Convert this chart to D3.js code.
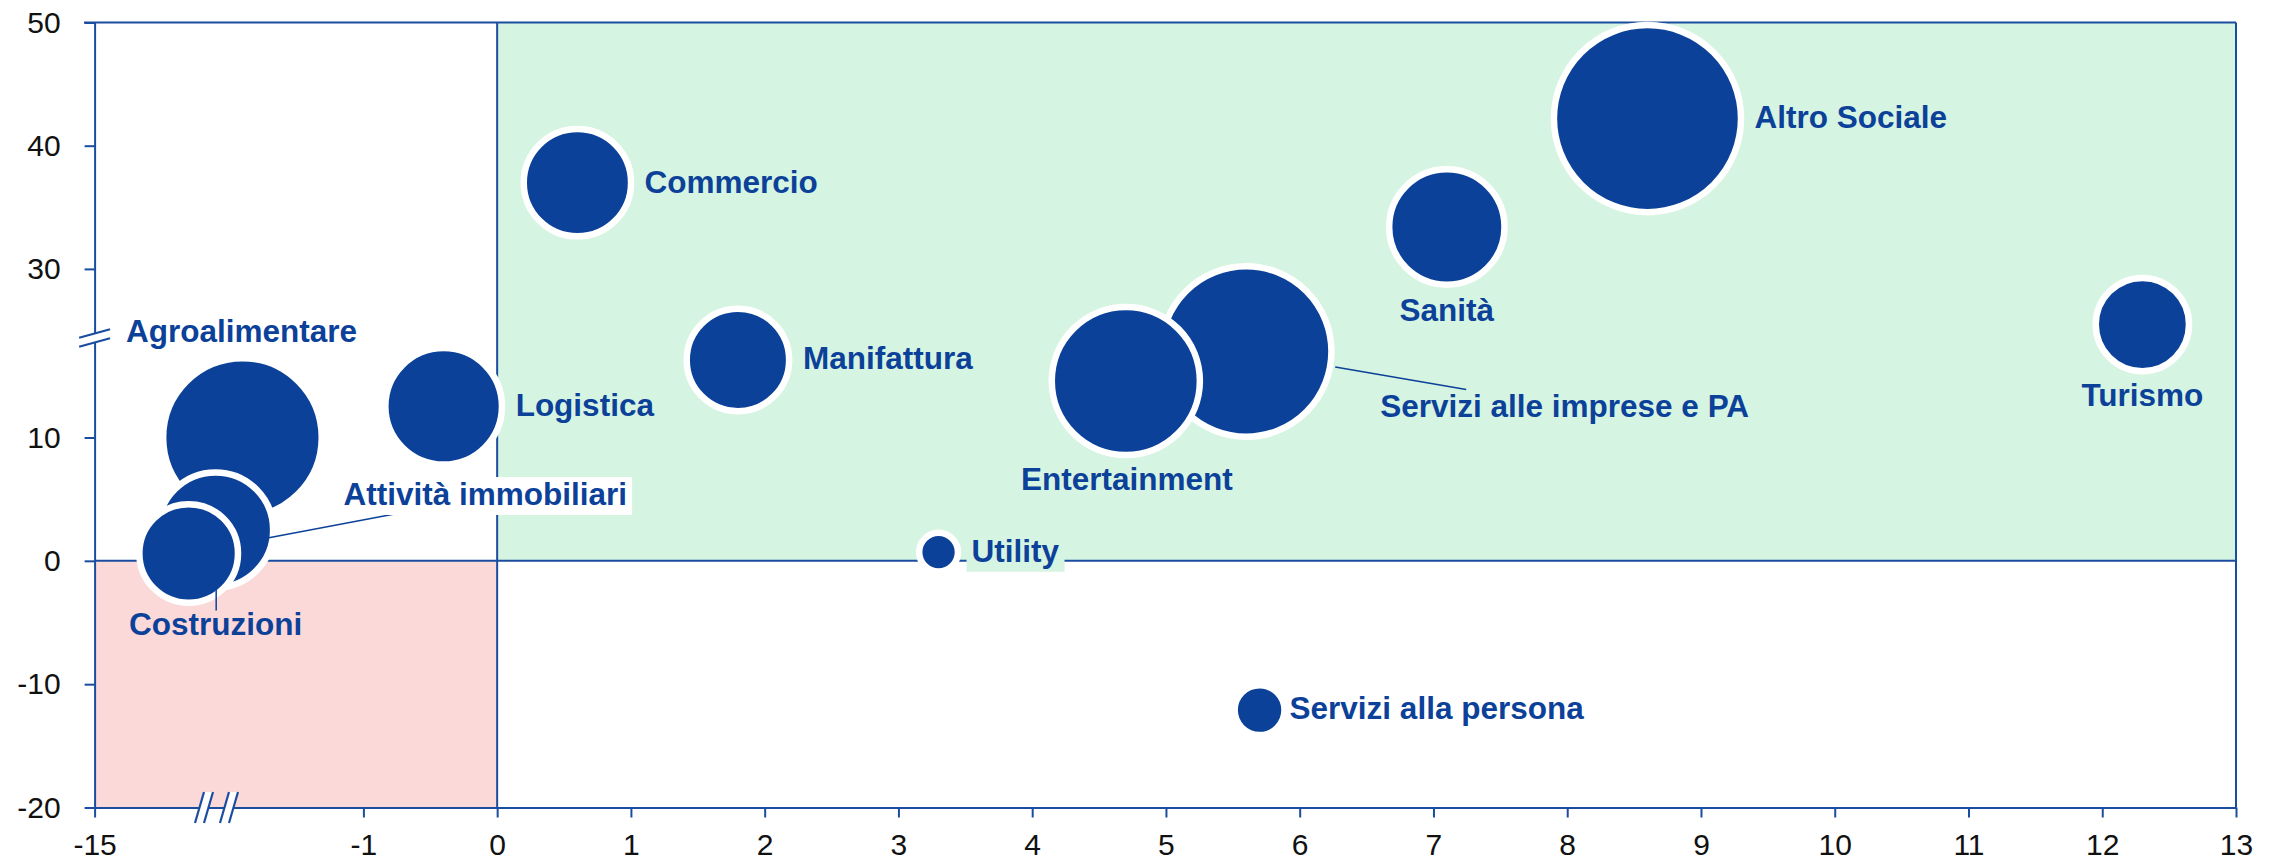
<!DOCTYPE html>
<html>
<head>
<meta charset="utf-8">
<script src="https://cdn.jsdelivr.net/npm/d3@7"></script>
<style>
  body { margin: 0; background: #fff; }
  svg { display: block; font-family: "Liberation Sans", Arial, sans-serif; }
</style>
</head>
<body>
<div id="chart"></div>
<script>
// Data
const categories = ["Agroalimentare", "Attività immobiliari", "Costruzioni", "Logistica", "Commercio",
    "Manifattura", "Utility", "Entertainment", "Servizi alle imprese e PA", "Servizi alla persona",
    "Sanità", "Altro Sociale", "Turismo"];
const xValues = [-7.3, -8.7, -10.1, -0.4, 0.6, 1.8, 3.3, 4.7, 5.6, 5.7, 7.1, 8.6, 12.3];
const yValues = [10.0, 2.5, 0.6, 13.7, 37.0, 19.2, 0.7, 16.7, 20.2, -12.1, 33.4, 42.2, 23.4];
const sizes = [57.8, 29.5, 21.2, 30.3, 25.4, 23.0, 2.6, 50.1, 67.2, 4.7, 29.6, 81.5, 18.8];
const xTicks = [-15, -1, 0, 1, 2, 3, 4, 5, 6, 7, 8, 9, 10, 11, 12, 13];
const yTicks = [-20, -10, 0, 10, 30, 40, 50];

// Label placement (pixels from bubble centre)
const labelLayout = {
    "Agroalimentare": { anchor: "middle", dx: -1, dy: -96 },
    "Attività immobiliari": { anchor: "start", dx: 128, dy: -25, box: "#fff", leader: [52, 8, 179, -16] },
    "Costruzioni": { anchor: "middle", dx: 27, dy: 82, leader: [27.5, 36, 27.5, 57] },
    "Logistica": { anchor: "start", dx: 72, dy: 10 },
    "Commercio": { anchor: "start", dx: 67, dy: 10 },
    "Manifattura": { anchor: "start", dx: 65, dy: 9 },
    "Utility": { anchor: "start", dx: 33, dy: 9.5, box: "#d6f4e2" },
    "Entertainment": { anchor: "middle", dx: 1, dy: 108.5 },
    "Servizi alle imprese e PA": { anchor: "start", dx: 134, dy: 65.5, leader: [89, 15.4, 220, 38] },
    "Servizi alla persona": { anchor: "start", dx: 30, dy: 8.5 },
    "Sanità": { anchor: "middle", dx: 0, dy: 93.5 },
    "Altro Sociale": { anchor: "start", dx: 107, dy: 9.5 },
    "Turismo": { anchor: "middle", dx: 0, dy: 81 }
};

const width = 2277;
const height = 861;
const blue = "#0c4199";
const lineBlue = "#1a4c9f";

const svg = d3.select("#chart").append("svg")
    .attr("width", width)
    .attr("height", height);

// Broken scales: x squeezed between -15 and -1, y between 10 and 30
const x = d3.scaleLinear()
    .domain([-15, -1, 13])
    .range([94.6, 363.4, 2236]);

const y = d3.scaleLinear()
    .domain([-20, 10, 30, 50])
    .range([807.5, 437.5, 268.9, 22.5]);

const r = d3.scaleSqrt()
    .domain([0, d3.max(sizes)])
    .range([0, 90.3]);

// Quadrant backgrounds
svg.append("rect")
    .attr("x", x(0)).attr("y", y(50))
    .attr("width", x(13) - x(0)).attr("height", y(0) - y(50))
    .attr("fill", "#d6f4e2");

svg.append("rect")
    .attr("x", x(-15)).attr("y", y(0))
    .attr("width", x(0) - x(-15)).attr("height", y(-20) - y(0))
    .attr("fill", "#fcd9d9");

// Frame and zero lines
svg.append("line")
    .attr("x1", 84).attr("x2", x(13)).attr("y1", y(50)).attr("y2", y(50))
    .attr("stroke", lineBlue).attr("stroke-width", 2);
svg.append("line")
    .attr("x1", x(13)).attr("x2", x(13)).attr("y1", y(50)).attr("y2", y(-20))
    .attr("stroke", lineBlue).attr("stroke-width", 2);
svg.append("line")
    .attr("x1", x(0)).attr("x2", x(0)).attr("y1", y(50)).attr("y2", y(-20))
    .attr("stroke", lineBlue).attr("stroke-width", 2);
svg.append("line")
    .attr("x1", x(-15)).attr("x2", x(13)).attr("y1", y(0)).attr("y2", y(0))
    .attr("stroke", lineBlue).attr("stroke-width", 2);

// Axes
const xAxis = svg.append("g")
    .attr("transform", `translate(0,${y(-20)})`)
    .call(d3.axisBottom(x).tickValues(xTicks).tickFormat(d => String(d))
        .tickSize(10).tickSizeOuter(0).tickPadding(16));

const yAxis = svg.append("g")
    .attr("transform", `translate(${x(-15)},0)`)
    .call(d3.axisLeft(y).tickValues(yTicks).tickFormat(d => String(d))
        .tickSize(10).tickSizeOuter(0).tickPadding(24));

[xAxis, yAxis].forEach(g => {
    g.select(".domain").attr("stroke", lineBlue).attr("stroke-width", 2);
    g.selectAll(".tick line").attr("stroke", lineBlue).attr("stroke-width", 2);
    g.selectAll(".tick text")
        .attr("fill", "#111")
        .style("font-size", "30px")
        .style("font-family", "'Liberation Sans', Arial, sans-serif");
});

// Axis break marks
function breakMark(cx, cy, w, h, slant, horizontal) {
    // white band between two slanted blue strokes
    let pts;
    if (horizontal) {
        pts = [[cx - w / 2 - slant, cy + h / 2], [cx - w / 2 + slant, cy - h / 2],
               [cx + w / 2 + slant, cy - h / 2], [cx + w / 2 - slant, cy + h / 2]];
    } else {
        pts = [[cx - w / 2, cy - h / 2 + slant], [cx + w / 2, cy - h / 2 - slant],
               [cx + w / 2, cy + h / 2 - slant], [cx - w / 2, cy + h / 2 + slant]];
    }
    svg.append("polygon")
        .attr("points", pts.map(p => p.join(",")).join(" "))
        .attr("fill", "#fff");
    [[pts[0], pts[1]], [pts[3], pts[2]]].forEach(l => {
        svg.append("line")
            .attr("x1", l[0][0]).attr("y1", l[0][1])
            .attr("x2", l[1][0]).attr("y2", l[1][1])
            .attr("stroke", lineBlue).attr("stroke-width", 2.2);
    });
}

breakMark(x(-15), 338, 31, 9, 4.2, false);
breakMark(204, y(-20), 9, 31, 4.5, true);
breakMark(229, y(-20), 9, 31, 4.5, true);

// Bubbles, largest behind
const bubbles = categories.map((c, i) => ({
    name: c, x: xValues[i], y: yValues[i], size: sizes[i]
})).sort((a, b) => b.size - a.size);

svg.append("g")
    .selectAll("circle")
    .data(bubbles)
    .join("circle")
    .attr("cx", d => x(d.x))
    .attr("cy", d => y(d.y))
    .attr("r", d => r(d.size) + 3.25)
    .attr("fill", blue)
    .attr("stroke", "#fff")
    .attr("stroke-width", 6.5);

// Labels
const labels = svg.append("g");

bubbles.forEach(d => {
    const L = labelLayout[d.name];
    const cx = x(d.x);
    const cy = y(d.y);

    if (L.leader) {
        labels.append("line")
            .attr("x1", cx + L.leader[0]).attr("y1", cy + L.leader[1])
            .attr("x2", cx + L.leader[2]).attr("y2", cy + L.leader[3])
            .attr("stroke", blue).attr("stroke-width", 1.5);
    }

    const t = labels.append("text")
        .attr("x", cx + L.dx)
        .attr("y", cy + L.dy)
        .attr("text-anchor", L.anchor)
        .attr("fill", blue)
        .style("font-size", "31.5px")
        .style("font-weight", "bold")
        .text(d.name);

    if (L.box) {
        const bb = t.node().getBBox();
        labels.insert("rect", () => t.node())
            .attr("x", bb.x - 5).attr("y", bb.y + 1)
            .attr("width", bb.width + 10).attr("height", bb.height + 2)
            .attr("fill", L.box);
    }
});
</script>
</body>
</html>
